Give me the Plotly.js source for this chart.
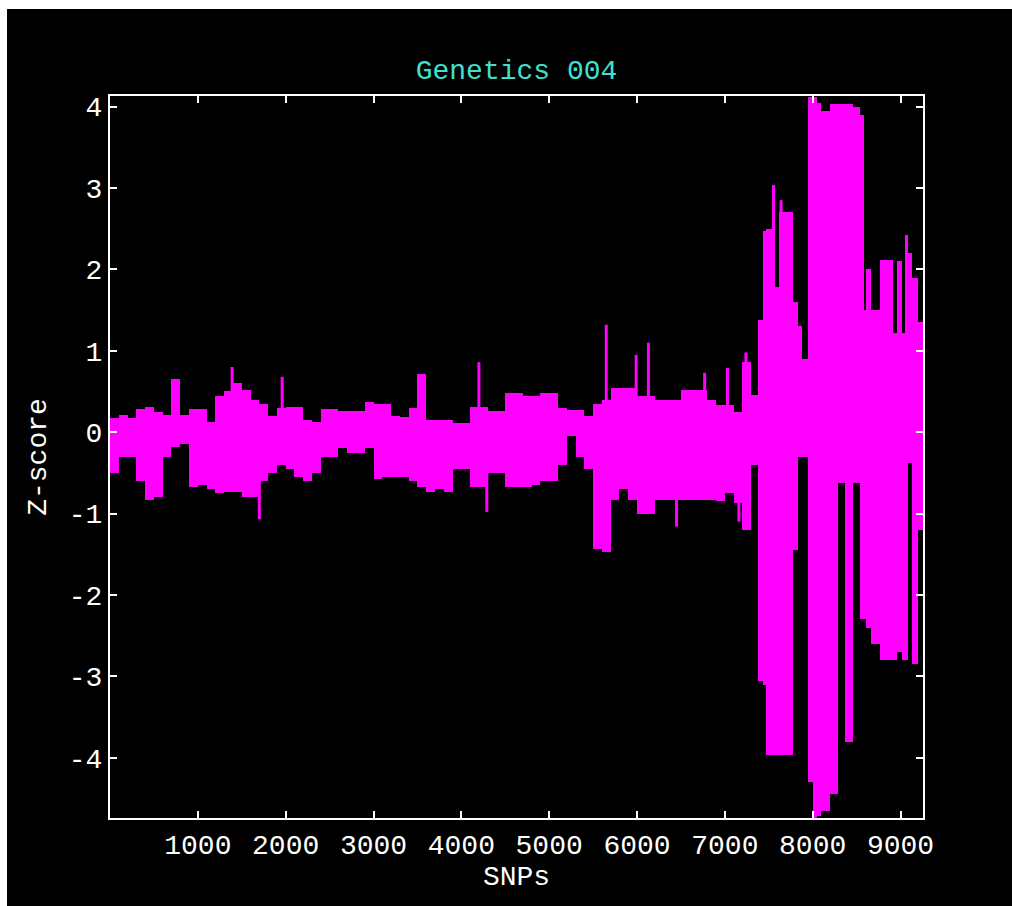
<!DOCTYPE html>
<html>
<head>
<meta charset="utf-8">
<script src="https://cdn.plot.ly/plotly-3.0.1.min.js"></script>
<style>
  html, body { margin: 0; padding: 0; background: #ffffff; width: 1012px; height: 906px; overflow: hidden; }
  #chart { position: absolute; left: 7px; top: 9px; width: 1005px; height: 897px; }
</style>
</head>
<body>
<div id="chart"></div>
<script>
// ---- data ----
const chartTitle = "Genetics 004";
const xTitle = "SNPs";
const yTitle = "Z-score";
const snpCount = 9256;

// envelope of the Z-score trace per SNP block (block start, max, min)
const blockStart = [0,100,200,300,400,500,600,700,800,900,1000,1100,1200,1300,1400,1500,1600,1700,1800,1900,
  2000,2100,2200,2300,2400,2500,2600,2700,2800,2900,3000,3100,3200,3300,3400,3500,3600,3700,3800,3900,
  4000,4100,4200,4300,4400,4500,4600,4700,4800,4900,5000,5100,5200,5300,5400,5500,5600,5700,5800,5900,
  6000,6100,6200,6300,6400,6500,6600,6700,6800,6900,7000,7100,7200,7300,7380,7440,7470,7540,7575,7612,
  7700,7780,7830,7880,7945,8000,8050,8100,8200,8290,8370,8460,8540,8580,8610,8660,8770,8920,8960,9020,
  9055,9090,9130,9200];
const blockMax = [0.18,0.21,0.18,0.28,0.31,0.25,0.21,0.65,0.21,0.28,0.28,0.12,0.44,0.5,0.6,0.52,0.4,0.35,0.2,0.3,
  0.31,0.31,0.15,0.13,0.28,0.28,0.26,0.26,0.26,0.37,0.35,0.35,0.2,0.19,0.3,0.72,0.15,0.15,0.15,0.11,
  0.11,0.31,0.31,0.26,0.26,0.48,0.48,0.44,0.44,0.48,0.48,0.3,0.27,0.27,0.2,0.35,0.4,0.54,0.54,0.54,
  0.45,0.45,0.4,0.4,0.4,0.52,0.52,0.52,0.4,0.33,0.33,0.25,0.86,0.46,1.38,2.47,2.5,3.04,1.78,2.7,
  2.7,1.6,1.3,0.9,4.12,4.12,4.05,3.95,4.03,4.03,4.03,4.0,3.9,1.5,2.0,1.5,2.12,1.22,2.1,1.22,
  2.42,2.2,1.9,1.35];
const blockMin = [-0.5,-0.3,-0.3,-0.6,-0.83,-0.8,-0.3,-0.18,-0.15,-0.67,-0.65,-0.7,-0.75,-0.73,-0.73,-0.8,-0.8,-0.6,-0.5,-0.4,
  -0.45,-0.55,-0.6,-0.5,-0.3,-0.3,-0.2,-0.25,-0.25,-0.2,-0.58,-0.55,-0.55,-0.55,-0.6,-0.67,-0.74,-0.7,-0.74,-0.45,
  -0.45,-0.67,-0.67,-0.5,-0.5,-0.67,-0.67,-0.67,-0.65,-0.6,-0.6,-0.4,-0.05,-0.3,-0.45,-1.44,-1.47,-0.83,-0.7,-0.83,
  -1.0,-1.0,-0.83,-0.83,-0.83,-0.83,-0.83,-0.83,-0.83,-0.85,-0.75,-0.87,-1.2,-0.4,-3.06,-3.1,-3.97,-3.97,-3.97,-3.97,
  -3.97,-1.45,-0.3,-0.3,-4.3,-4.75,-4.72,-4.65,-4.45,-0.62,-3.81,-0.62,-2.3,-2.3,-2.4,-2.6,-2.8,-2.8,-2.7,-2.8,
  -2.8,-0.38,-2.85,-1.2];

// isolated single-SNP spikes
const spikeSnp = [1390,1960,4200,5650,5990,6130,6770,7030,7240,7640,1700,4290,6450,7160];
const spikeZ   = [0.8,0.68,0.86,1.32,0.95,1.1,0.73,0.79,0.98,2.85,-1.07,-0.98,-1.16,-1.1];

const xTickVals = [1000,2000,3000,4000,5000,6000,7000,8000,9000];
const yTickVals = [-4,-3,-2,-1,0,1,2,3,4];
const yTickText = ["-4","-3","-2","-1","0","1","2","3","4"];

// ---- build traces ----
const ends = blockStart.slice(1).concat([snpCount]);
const centers = blockStart.map((s, i) => (s + ends[i]) / 2);
const widths = blockStart.map((s, i) => ends[i] - s);
const heights = blockMax.map((m, i) => m - blockMin[i]);

const band = {
  type: "bar",
  x: centers,
  y: heights,
  base: blockMin,
  width: widths,
  marker: { color: "#ff00ff", line: { width: 0 } },
  hoverinfo: "skip",
  showlegend: false
};

const sx = [], sy = [];
spikeSnp.forEach((s, i) => { sx.push(s, s, null); sy.push(0, spikeZ[i], null); });
const spikes = {
  type: "scatter",
  mode: "lines",
  x: sx, y: sy,
  line: { color: "#ff00ff", width: 3 },
  hoverinfo: "skip",
  showlegend: false
};

const font = "Liberation Mono, DejaVu Sans Mono, monospace";
const axisCommon = {
  showgrid: false,
  zeroline: false,
  showline: true,
  linecolor: "#ffffff",
  linewidth: 2,
  mirror: "ticks",
  ticks: "inside",
  ticklen: 7,
  tickwidth: 2,
  tickcolor: "#ffffff",
  tickfont: { family: font, size: 28, color: "#ffffff" }
};

const layout = {
  width: 1005,
  height: 897,
  paper_bgcolor: "#000000",
  plot_bgcolor: "#000000",
  margin: { l: 103, r: 89, t: 87, b: 88 },
  bargap: 0,
  barmode: "overlay",
  title: {
    text: chartTitle,
    font: { family: font, size: 28, color: "#40e0d0" },
    x: 0.5, xref: "paper", xanchor: "center",
    y: 1 - 60 / 897, yref: "container", yanchor: "middle"
  },
  xaxis: Object.assign({}, axisCommon, {
    range: [0, snpCount],
    tickvals: xTickVals,
    title: { text: xTitle, font: { family: font, size: 28, color: "#ffffff" }, standoff: 5 }
  }),
  yaxis: Object.assign({}, axisCommon, {
    range: [-4.74, 4.13],
    tickvals: yTickVals,
    ticktext: yTickText,
    title: { text: yTitle, font: { family: font, size: 28, color: "#ffffff" }, standoff: 14 }
  })
};

Plotly.newPlot("chart", [band, spikes], layout, { staticPlot: true, displayModeBar: false });
</script>
</body>
</html>
